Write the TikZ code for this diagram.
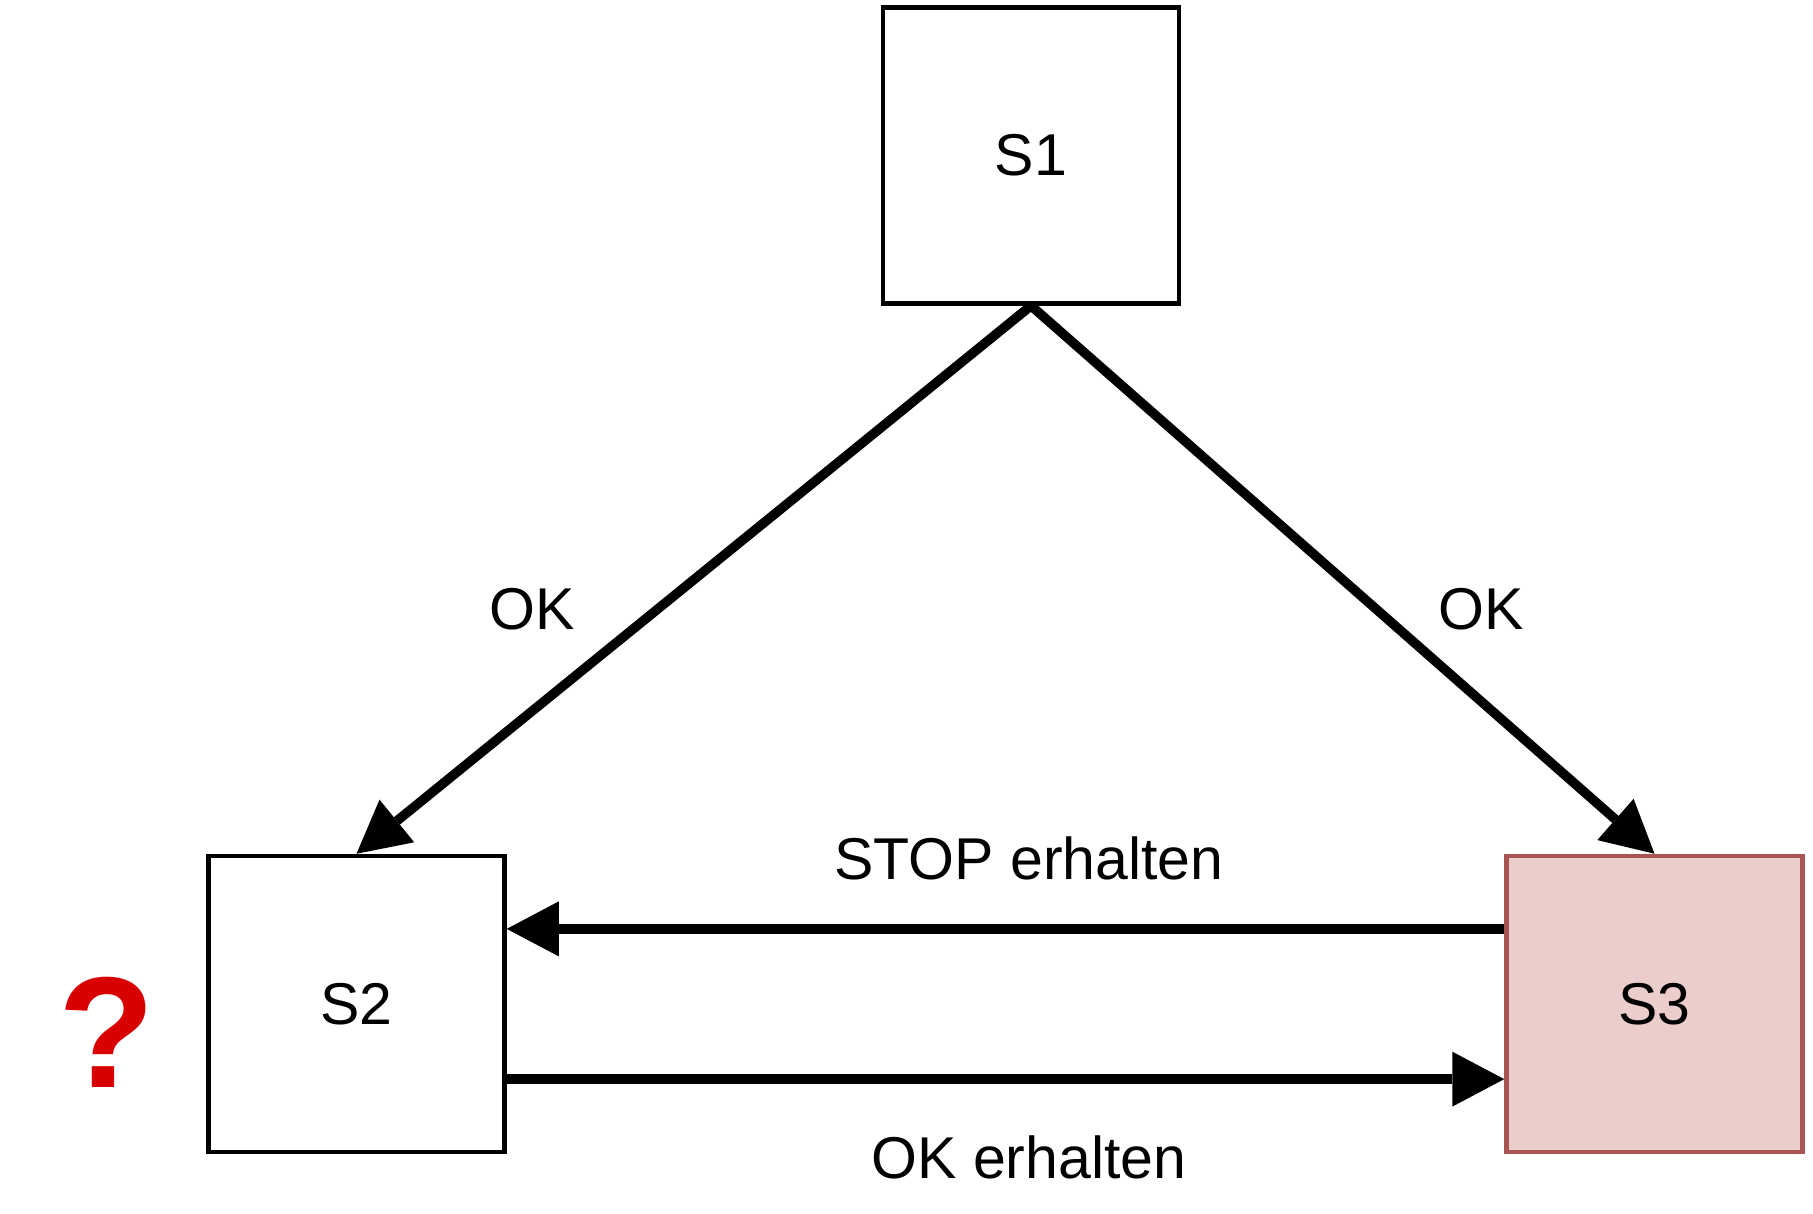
\documentclass[tikz,border=0pt]{standalone}
\usepackage{fontspec}
\setmainfont{Liberation Sans}
\usetikzlibrary{arrows.meta,calc}
\definecolor{s3fill}{HTML}{EBCDCC}
\definecolor{s3draw}{HTML}{A65552}
\definecolor{qred}{HTML}{D90000}
\begin{document}
\begin{tikzpicture}[x=1pt,y=-1pt,
  state/.style={draw=black, line width=4.5pt, minimum width=296pt, minimum height=296pt, inner sep=0pt, font=\fontsize{59}{70}\selectfont},
  conn/.style={line width=9.5pt, -{Triangle[length=52pt,width=55pt,line width=0pt]}},
  lbl/.style={font=\fontsize{59}{70}\selectfont, inner sep=0pt, anchor=base}]
\useasboundingbox (0,0) rectangle (1813,1214);
\node[state] (S1) at (1031,155.5) {S1};
\node[state] (S2) at (356.5,1004) {S2};
\node[state, fill=s3fill, draw=s3draw] (S3) at (1654.5,1004) {S3};
\draw[conn] (S1.south) -- (S2.north);
\draw[conn] (S1.south) -- (S3.north);
\coordinate (a1) at ($(S3.north west)!0.25!(S3.south west)$);
\draw[conn] (a1) -- (a1 -| S2.east);
\coordinate (b1) at ($(S2.north east)!0.75!(S2.south east)$);
\draw[conn] (b1) -- (b1 -| S3.west);
\node[lbl] (l1) at (532,629) {OK};
\node[lbl] (l2) at (1481,629) {OK};
\node[lbl] (l3) at (1029,879) {STOP erhalten};
\node[lbl] (l4) at (1029,1178) {OK erhalten};
\node[lbl, text=qred, font=\fontsize{158}{180}\selectfont\bfseries] (q) at (107,1087) {?};
\end{tikzpicture}
\end{document}
